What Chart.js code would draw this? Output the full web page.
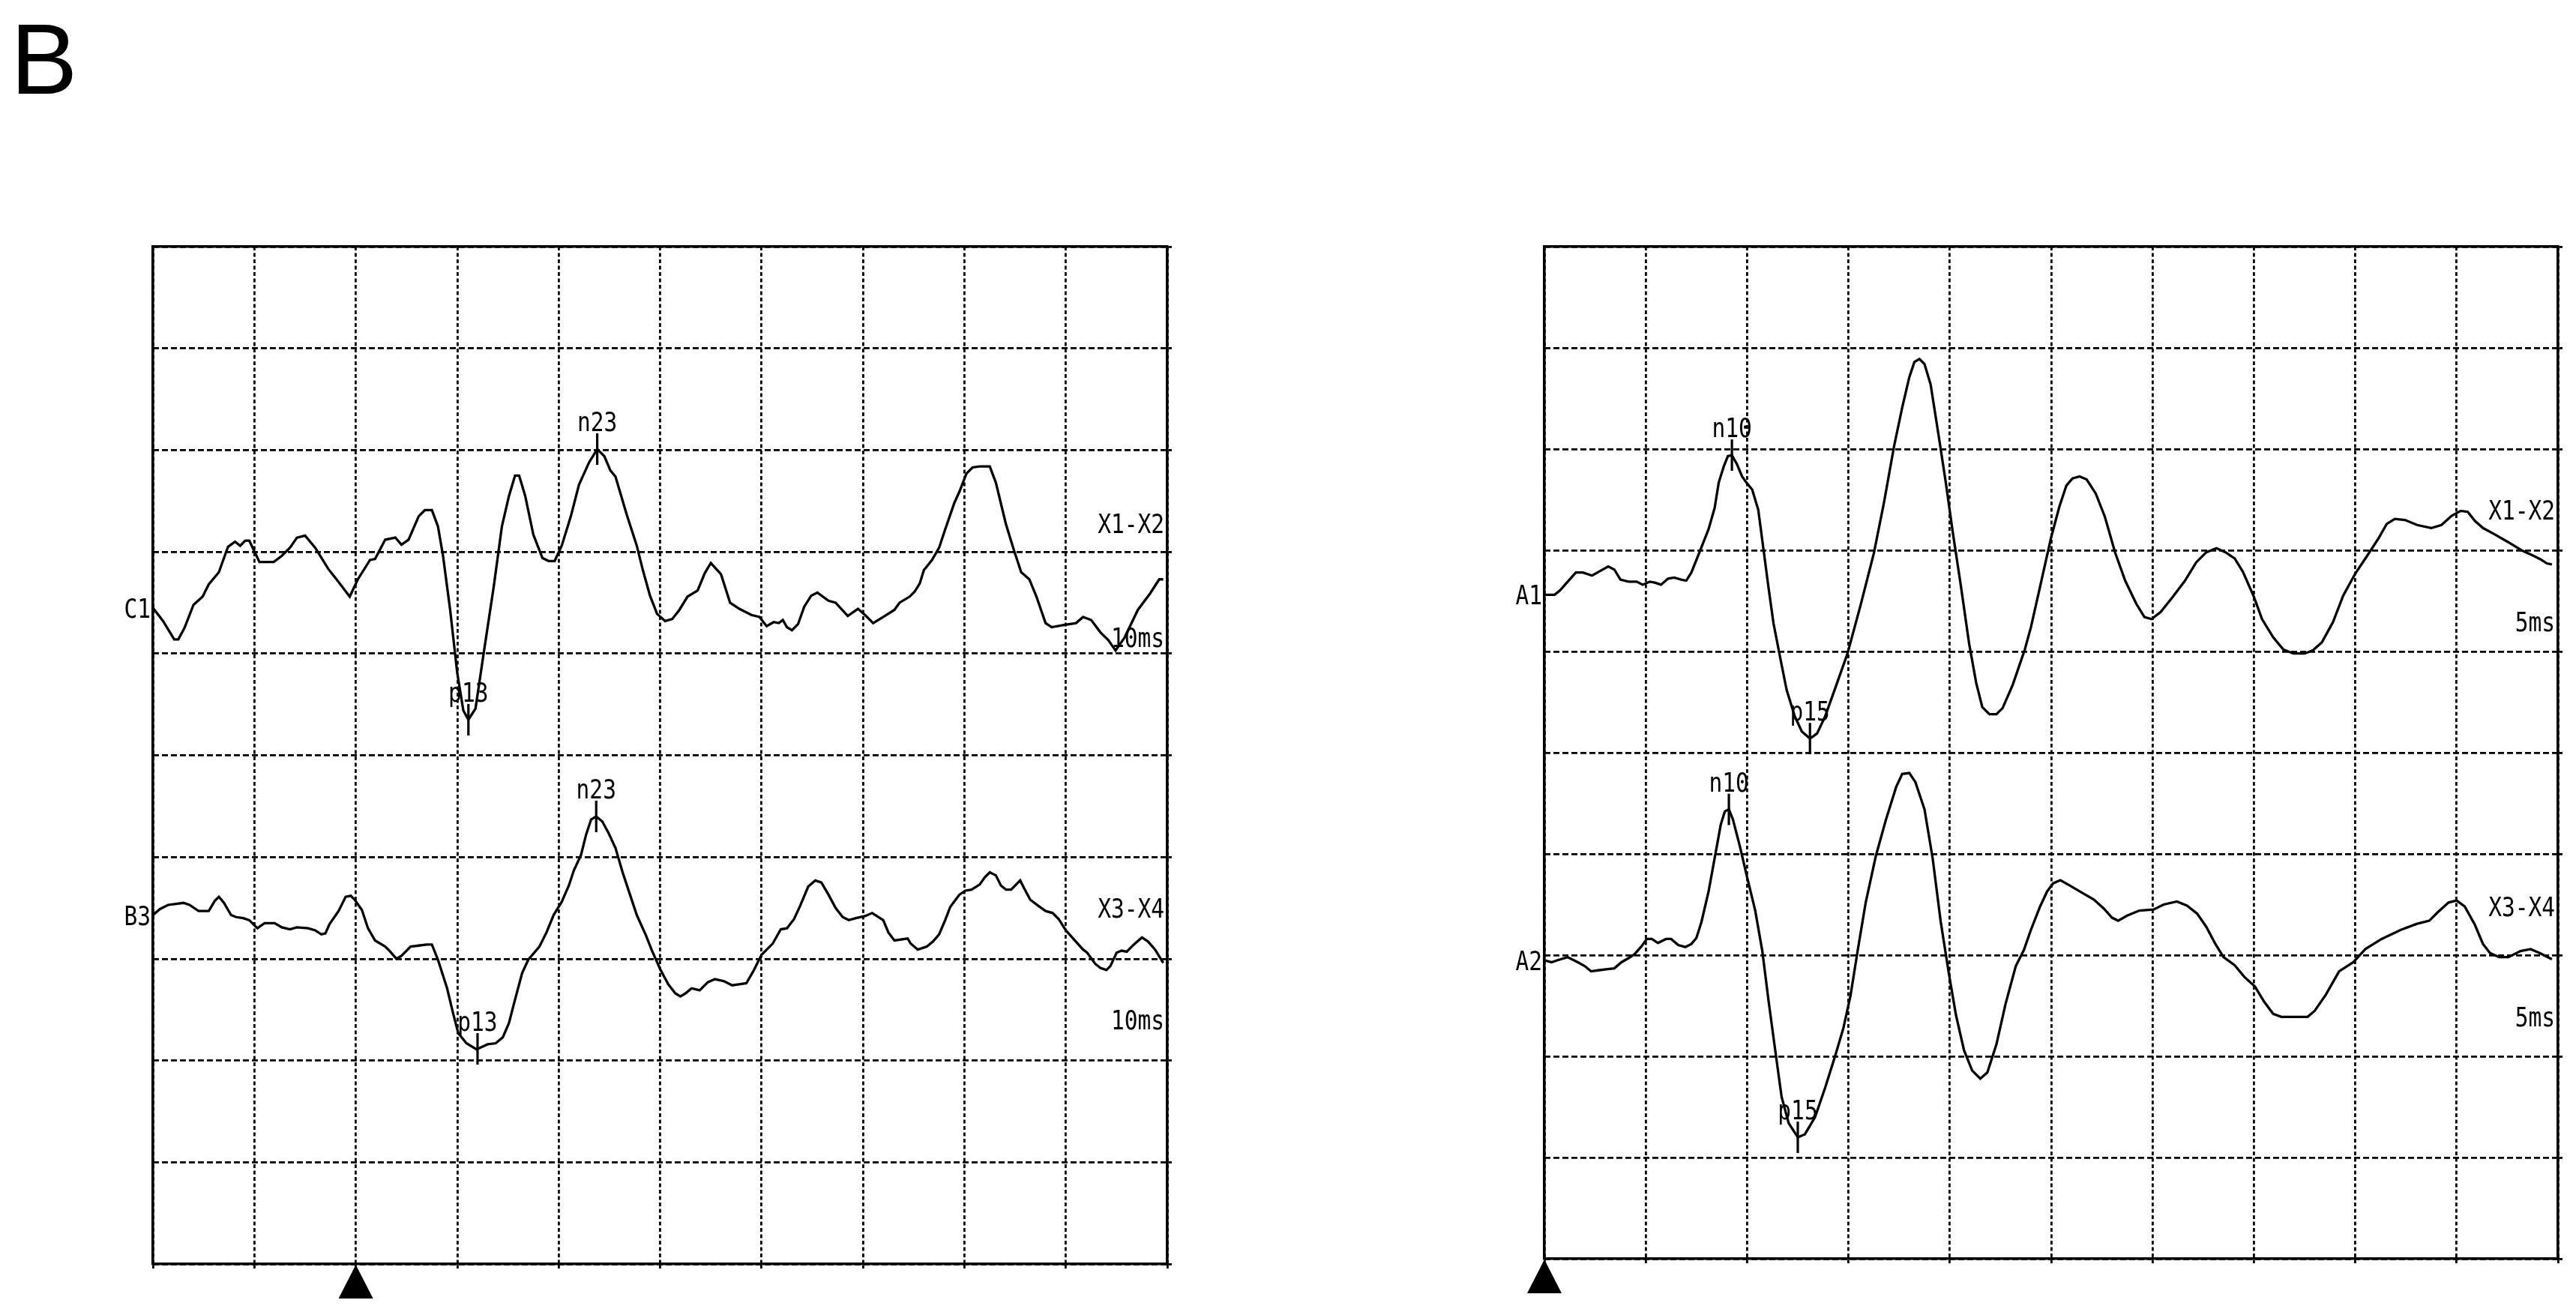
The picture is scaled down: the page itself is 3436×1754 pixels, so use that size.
<!DOCTYPE html>
<html lang="ja">
<head>
  <meta charset="UTF-8" />
  <title>SEP traces B</title>
  <script src="https://cdn.jsdelivr.net/npm/chart.js"></script>
  <style>
    html, body {
      margin: 0;
      padding: 0;
      background: #fff;
    }

    body {
      position: relative;
      width: 3436px;
      height: 1754px;
      overflow: hidden;
    }

    .panel-label {
      position: absolute;
      left: 14px;
      top: 12px;
      font-family: 'Liberation Sans', Arial, sans-serif;
      font-size: 134px;
      line-height: 134px;
      color: #000;
    }

    .box {
      position: absolute;
      top: 0;
      width: 1718px;
      height: 1754px;
    }

    #leftBox { left: 0; }
    #rightBox { left: 1718px; }
  </style>
</head>
<body>
  <div class="panel-label">B</div>
  <div class="box" id="leftBox"><canvas id="leftChart" width="1718" height="1754"></canvas></div>
  <div class="box" id="rightBox"><canvas id="rightChart" width="1718" height="1754"></canvas></div>

  <script>
    // Linkes Panel: 10 ms/Div, Reiz bei 0 ms (zweite Gitterlinie)
    const c1Ms = [-20, -19, -17.9, -17.5, -16.9, -16, -15.1, -14.5, -13.5, -12.6,
      -11.9, -11.4, -10.9, -10.5, -9.5, -8.1, -7.3, -6.5, -5.8, -5,
      -4, -2.7, -1.9, -0.6, 0.2, 1.4, 1.9, 2.9, 3.9, 4.5,
      5.2, 6.2, 6.8, 7.5, 8.1, 8.6, 9.3, 10, 10.6, 11.1,
      11.8, 12.6, 13.6, 14.4, 15.1, 15.7, 16.1, 16.7, 17.5, 18.4,
      19, 19.6, 20.3, 21.2, 22, 23, 23.8, 24.5, 25.1, 25.6,
      26.7, 27.7, 28.3, 29, 29.7, 30.5, 31.2, 31.9, 32.7, 33.7,
      34.4, 35, 36, 36.9, 37.8, 39, 39.8, 40.5, 41.2, 41.7,
      42.1, 42.5, 43, 43.6, 44.2, 44.9, 45.5, 46.6, 47.3, 48.5,
      49.5, 50.2, 51, 52, 53.1, 53.6, 54.6, 55.1, 55.6, 56,
      56.8, 57.5, 58.1, 59, 59.5, 60.2, 60.8, 61.5, 62.5, 63.1,
      64.1, 64.9, 65.6, 66.4, 67.1, 68, 68.6, 69.7, 71, 71.7,
      72.5, 73.4, 74.2, 74.9, 75.8, 77.1, 78.3, 79.2, 79.6];
    const c1Div = [6.45, 6.32, 6.14, 6.14, 6.25, 6.48, 6.56, 6.68, 6.80, 7.05,
      7.10, 7.06, 7.11, 7.11, 6.90, 6.90, 6.96, 7.04, 7.14, 7.16,
      7.04, 6.83, 6.73, 6.56, 6.73, 6.92, 6.93, 7.12, 7.14, 7.07,
      7.12, 7.35, 7.41, 7.41, 7.25, 6.96, 6.43, 5.81, 5.44, 5.35,
      5.46, 6.00, 6.66, 7.25, 7.55, 7.75, 7.75, 7.55, 7.17, 6.94,
      6.91, 6.91, 7.06, 7.35, 7.66, 7.88, 8.01, 7.94, 7.80, 7.74,
      7.37, 7.06, 6.82, 6.57, 6.39, 6.32, 6.34, 6.43, 6.56, 6.62,
      6.79, 6.89, 6.78, 6.50, 6.44, 6.38, 6.36, 6.27, 6.31, 6.30,
      6.33, 6.26, 6.23, 6.29, 6.46, 6.57, 6.60, 6.52, 6.50, 6.37,
      6.44, 6.38, 6.30, 6.36, 6.43, 6.50, 6.56, 6.61, 6.69, 6.82,
      6.92, 7.04, 7.22, 7.48, 7.59, 7.77, 7.83, 7.84, 7.84, 7.68,
      7.27, 7.01, 6.80, 6.73, 6.56, 6.30, 6.26, 6.28, 6.30, 6.36,
      6.33, 6.21, 6.13, 6.03, 6.16, 6.43, 6.59, 6.73, 6.73];

    const b3Ms = [-20, -19.3, -18.5, -17.7, -17, -16.4, -15.5, -14.5, -13.9, -13.5,
      -13, -12.3, -11.8, -11.1, -10.5, -9.7, -9, -8, -7.3, -6.5,
      -5.8, -4.7, -4, -3.4, -3, -2.6, -1.7, -1, -0.5, -0.1,
      0.6, 1.2, 1.9, 2.9, 3.4, 4, 4.5, 5.4, 6.2, 7,
      7.5, 8.1, 9, 9.6, 10.1, 10.9, 11.9, 13, 13.8, 14.5,
      15.1, 15.7, 16.4, 17, 18.1, 18.8, 19.5, 20.3, 21, 21.5,
      22.2, 22.7, 23.2, 23.7, 24.3, 24.9, 25.6, 26.3, 27.1, 27.7,
      28.6, 29.2, 30, 30.8, 31.5, 32, 32.5, 33.1, 33.9, 34.7,
      35.4, 36.3, 37.1, 37.8, 38.5, 39.2, 40, 41.1, 41.9, 42.5,
      43.2, 43.8, 44.6, 45.3, 45.9, 46.6, 47.3, 48, 48.6, 49.3,
      50.2, 50.9, 52, 52.5, 53.1, 54.4, 54.7, 55.4, 56.3, 56.9,
      57.5, 58.1, 58.6, 59.5, 60.1, 60.7, 61.5, 62, 62.5, 63.1,
      63.6, 64.1, 64.6, 65.5, 65.9, 66.5, 67.3, 68, 68.7, 69.3,
      70, 70.8, 71.7, 72.1, 72.9, 73.4, 74, 74.4, 75, 75.5,
      76, 76.7, 77.5, 78.1, 78.8, 79.6];
    const b3Div = [3.43, 3.49, 3.53, 3.54, 3.55, 3.53, 3.47, 3.47, 3.57, 3.61,
      3.55, 3.43, 3.41, 3.40, 3.38, 3.30, 3.35, 3.35, 3.31, 3.29,
      3.31, 3.30, 3.28, 3.24, 3.25, 3.34, 3.47, 3.61, 3.62, 3.58,
      3.48, 3.30, 3.18, 3.12, 3.07, 3.00, 3.03, 3.12, 3.13, 3.14,
      3.14, 2.99, 2.71, 2.46, 2.27, 2.17, 2.11, 2.16, 2.17, 2.23,
      2.37, 2.60, 2.86, 2.99, 3.12, 3.26, 3.43, 3.56, 3.72, 3.87,
      4.02, 4.22, 4.37, 4.40, 4.35, 4.24, 4.09, 3.85, 3.61, 3.43,
      3.23, 3.08, 2.90, 2.75, 2.66, 2.63, 2.66, 2.71, 2.69, 2.77,
      2.80, 2.78, 2.74, 2.75, 2.76, 2.88, 3.04, 3.15, 3.29, 3.30,
      3.39, 3.52, 3.71, 3.77, 3.75, 3.63, 3.50, 3.41, 3.38, 3.40,
      3.42, 3.45, 3.38, 3.26, 3.18, 3.20, 3.15, 3.09, 3.12, 3.17,
      3.24, 3.38, 3.51, 3.63, 3.67, 3.68, 3.73, 3.80, 3.85, 3.82,
      3.72, 3.68, 3.68, 3.77, 3.69, 3.58, 3.52, 3.47, 3.45, 3.39,
      3.28, 3.19, 3.09, 3.06, 2.95, 2.91, 2.89, 2.93, 3.06, 3.08,
      3.07, 3.14, 3.21, 3.17, 3.09, 2.96];

    // Rechtes Panel: 5 ms/Div, Reiz am linken Rand
    const a1Ms = [0, 0.5, 0.75, 1.15, 1.55, 1.9, 2.35, 2.7, 3.15, 3.45,
      3.75, 4.15, 4.55, 4.85, 5.2, 5.45, 5.75, 6.1, 6.4, 6.75,
      7, 7.25, 7.65, 8.1, 8.4, 8.6, 8.85, 9.05, 9.25, 9.5,
      9.75, 10, 10.25, 10.55, 10.8, 11.05, 11.3, 11.65, 11.95, 12.35,
      12.7, 13.1, 13.45, 13.85, 14.35, 14.95, 15.6, 16.25, 16.75, 17.25,
      17.65, 18, 18.25, 18.5, 18.75, 19.05, 19.45, 19.8, 20.15, 20.55,
      20.95, 21.3, 21.6, 21.95, 22.3, 22.6, 23.1, 23.7, 24, 24.45,
      25, 25.4, 25.75, 26.05, 26.4, 26.75, 27.2, 27.65, 28.15, 28.65,
      29.2, 29.6, 29.95, 30.4, 31, 31.6, 32.15, 32.65, 33.15, 33.6,
      34.05, 34.45, 35, 35.4, 35.95, 36.45, 36.95, 37.5, 37.9, 38.35,
      38.9, 39.4, 40, 40.6, 41.15, 41.55, 41.95, 42.45, 43.05, 43.75,
      44.25, 44.75, 45.2, 45.55, 45.9, 46.3, 46.85, 47.55, 48.2, 48.75,
      49.15, 49.45, 49.7];
    const a1Div = [6.56, 6.56, 6.60, 6.69, 6.78, 6.78, 6.75, 6.79, 6.84, 6.81,
      6.71, 6.69, 6.69, 6.66, 6.69, 6.68, 6.66, 6.72, 6.73, 6.71,
      6.70, 6.78, 6.98, 7.21, 7.42, 7.67, 7.83, 7.93, 7.94, 7.85,
      7.73, 7.66, 7.60, 7.40, 7.02, 6.64, 6.28, 5.92, 5.62, 5.36,
      5.21, 5.14, 5.19, 5.36, 5.64, 5.98, 6.46, 6.97, 7.47, 8.03,
      8.41, 8.71, 8.86, 8.89, 8.84, 8.64, 8.13, 7.67, 7.17, 6.64,
      6.08, 5.69, 5.45, 5.38, 5.38, 5.44, 5.67, 6.02, 6.24, 6.64,
      7.13, 7.43, 7.64, 7.71, 7.73, 7.70, 7.56, 7.33, 6.98, 6.70,
      6.47, 6.34, 6.32, 6.39, 6.54, 6.70, 6.88, 6.98, 7.02, 6.98,
      6.92, 6.79, 6.54, 6.32, 6.14, 6.02, 5.98, 5.98, 6.01, 6.09,
      6.29, 6.55, 6.77, 6.95, 7.12, 7.26, 7.31, 7.30, 7.25, 7.22,
      7.25, 7.34, 7.39, 7.38, 7.29, 7.22, 7.16, 7.08, 7.00, 6.95,
      6.91, 6.87, 6.86];

    const a2Ms = [0, 0.35, 0.65, 1.15, 1.65, 2, 2.3, 2.65, 3.05, 3.45,
      3.8, 4.15, 4.45, 4.8, 5.05, 5.3, 5.6, 6, 6.25, 6.6,
      6.95, 7.25, 7.5, 7.75, 8.1, 8.4, 8.7, 8.9, 9.1, 9.3,
      9.65, 10, 10.4, 10.75, 11.05, 11.4, 11.7, 12.05, 12.5, 12.85,
      13.35, 13.85, 14.35, 14.75, 15.1, 15.45, 15.85, 16.35, 16.85, 17.35,
      17.65, 18, 18.3, 18.75, 19.15, 19.55, 19.95, 20.3, 20.7, 21.1,
      21.5, 21.85, 22.3, 22.75, 23.25, 23.65, 24, 24.45, 24.8, 25.1,
      25.45, 25.9, 26.4, 27.1, 27.6, 28, 28.3, 28.75, 29.35, 30.05,
      30.55, 31.2, 31.7, 32.2, 32.65, 33.1, 33.5, 34.05, 34.55, 35.05,
      35.5, 35.95, 36.35, 36.95, 37.65, 38, 38.55, 39.2, 39.9, 40.5,
      41.3, 42.25, 43.05, 43.65, 44.05, 44.6, 45, 45.4, 45.9, 46.3,
      46.65, 47.1, 47.55, 48.15, 48.65, 49.1, 49.7];
    const a2Div = [2.95, 2.93, 2.95, 2.98, 2.93, 2.89, 2.84, 2.85, 2.86, 2.87,
      2.93, 2.97, 3.01, 3.09, 3.16, 3.16, 3.12, 3.16, 3.16, 3.10,
      3.08, 3.11, 3.17, 3.33, 3.63, 3.96, 4.29, 4.42, 4.44, 4.34,
      4.07, 3.77, 3.44, 3.04, 2.56, 2.04, 1.60, 1.34, 1.20, 1.23,
      1.40, 1.69, 2.01, 2.28, 2.60, 3.04, 3.52, 3.98, 4.34, 4.66,
      4.79, 4.80, 4.71, 4.44, 3.96, 3.33, 2.82, 2.41, 2.06, 1.86,
      1.78, 1.84, 2.12, 2.52, 2.89, 3.05, 3.25, 3.48, 3.63, 3.71,
      3.74, 3.69, 3.63, 3.55, 3.46, 3.37, 3.34, 3.39, 3.44, 3.45,
      3.50, 3.53, 3.49, 3.41, 3.28, 3.11, 2.98, 2.90, 2.78, 2.69,
      2.54, 2.42, 2.39, 2.39, 2.39, 2.45, 2.61, 2.84, 2.93, 3.06,
      3.16, 3.25, 3.31, 3.34, 3.42, 3.52, 3.54, 3.48, 3.30, 3.11,
      3.02, 2.98, 2.98, 3.04, 3.06, 3.02, 2.96];

    // Beschriftungen
    const leftChannels = ['C1', 'B3'];
    const leftMontages = ['X1-X2', 'X3-X4'];
    const leftSweep = '10ms';
    const leftPeakNames = ['n23', 'p13', 'n23', 'p13'];
    const leftPeakMs = [23.8, 11.1, 23.7, 12.0];
    const leftPeakTrace = [0, 0, 1, 1];

    const rightChannels = ['A1', 'A2'];
    const rightMontages = ['X1-X2', 'X3-X4'];
    const rightSweep = '5ms';
    const rightPeakNames = ['n10', 'p15', 'n10', 'p15'];
    const rightPeakMs = [9.25, 13.1, 9.1, 12.5];
    const rightPeakTrace = [0, 0, 1, 1];

    const LABEL_FONT = '36px "DejaVu Sans Mono", "Liberation Mono", monospace';
    const SQUEEZE = 0.82;   // schmale Schrift wie im Original
    const HALF_CAP = 13;

    function toPoints(ms, vals) {
      return ms.map((x, i) => ({ x: x, y: vals[i] }));
    }

    function valueAt(points, t) {
      for (let i = 1; i < points.length; i++) {
        if (points[i].x >= t) {
          const p0 = points[i - 1], p1 = points[i];
          const f = (t - p0.x) / (p1.x - p0.x);
          return p0.y + f * (p1.y - p0.y);
        }
      }
      return points[points.length - 1].y;
    }

    function squeezedText(ctx, text, px, py, align) {
      ctx.save();
      ctx.translate(px, py);
      ctx.scale(SQUEEZE, 1);
      ctx.textAlign = align;
      ctx.fillText(text, 0, 0);
      ctx.restore();
    }

    // Kanalnamen, Peak-Marken und Reizdreieck
    function makeMarks(cfg) {
      return {
        id: 'traceMarks',
        afterDatasetsDraw(chart) {
          const { ctx, chartArea: a, scales: { x, y } } = chart;
          ctx.save();
          ctx.fillStyle = '#000';
          ctx.strokeStyle = '#000';
          ctx.font = LABEL_FONT;
          ctx.textBaseline = 'alphabetic';

          cfg.channels.forEach((name, i) => {
            const pts = chart.data.datasets[i].data;
            squeezedText(ctx, name, a.left - 3, y.getPixelForValue(pts[0].y) + HALF_CAP, 'right');
            squeezedText(ctx, cfg.montages[i], a.right - 4, y.getPixelForValue(cfg.montageAt[i]) + HALF_CAP, 'right');
            squeezedText(ctx, cfg.sweep, a.right - 4, y.getPixelForValue(cfg.sweepAt[i]) + HALF_CAP, 'right');
          });

          cfg.peakNames.forEach((name, k) => {
            const pts = chart.data.datasets[cfg.peakTrace[k]].data;
            const t = cfg.peakMs[k];
            const v = valueAt(pts, t);
            const px = x.getPixelForValue(t);
            const top = y.getPixelForValue(v + 0.155);
            const bot = y.getPixelForValue(v - 0.155);
            ctx.lineWidth = 3.2;
            ctx.beginPath();
            ctx.moveTo(px, top);
            ctx.lineTo(px, bot);
            ctx.stroke();
            squeezedText(ctx, name, px, top - 3, 'center');
          });

          const sx = x.getPixelForValue(cfg.stimulusMs);
          ctx.beginPath();
          ctx.moveTo(sx, a.bottom + 1);
          ctx.lineTo(sx + 23, a.bottom + 46);
          ctx.lineTo(sx - 23, a.bottom + 46);
          ctx.closePath();
          ctx.fill();
          ctx.restore();
        }
      };
    }

    function buildChart(canvasId, traces, xMin, xMax, padding, marks) {
      const datasets = traces.map(([ms, vals]) => ({
        data: toPoints(ms, vals),
        borderColor: '#000',
        borderWidth: 3.3,
        pointRadius: 0,
        tension: 0,
        fill: false
      }));

      const gridLine = { color: '#000', lineWidth: 2.8, drawTicks: true, tickLength: 6, tickWidth: 2.8, tickColor: '#000' };
      const frameOnly = { display: false, drawTicks: false };

      return new Chart(document.getElementById(canvasId), {
        type: 'line',
        data: { datasets: datasets },
        options: {
          responsive: false,
          animation: false,
          devicePixelRatio: 1,
          layout: { padding: padding },
          plugins: {
            legend: { display: false },
            tooltip: { enabled: false }
          },
          scales: {
            x: {
              type: 'linear', position: 'bottom', min: xMin, max: xMax,
              ticks: { display: false, stepSize: (xMax - xMin) / 10 },
              grid: gridLine,
              border: { display: true, color: '#000', width: 3.6, dash: [5, 3.5] }
            },
            xTop: {
              type: 'linear', position: 'top', min: xMin, max: xMax,
              ticks: { display: false },
              grid: frameOnly,
              border: { display: true, color: '#000', width: 3.6 }
            },
            y: {
              type: 'linear', position: 'right', min: 0, max: 10,
              ticks: { display: false, stepSize: 1 },
              grid: gridLine,
              border: { display: true, color: '#000', width: 3.6, dash: [8, 4] }
            },
            yLeft: {
              type: 'linear', position: 'left', min: 0, max: 10,
              ticks: { display: false },
              grid: frameOnly,
              border: { display: true, color: '#000', width: 3.6 }
            }
          }
        },
        plugins: [makeMarks(marks)]
      });
    }

    buildChart('leftChart', [[c1Ms, c1Div], [b3Ms, b3Div]], -20, 80,
      { left: 204, top: 329, right: 155, bottom: 62 },
      {
        channels: leftChannels, montages: leftMontages, sweep: leftSweep,
        montageAt: [7.28, 3.50], sweepAt: [6.16, 2.40],
        peakNames: leftPeakNames, peakMs: leftPeakMs, peakTrace: leftPeakTrace,
        stimulusMs: 0
      });

    buildChart('rightChart', [[a1Ms, a1Div], [a2Ms, a2Div]], 0, 50,
      { left: 342, top: 329, right: 18, bottom: 69 },
      {
        channels: rightChannels, montages: rightMontages, sweep: rightSweep,
        montageAt: [7.40, 3.48], sweepAt: [6.30, 2.39],
        peakNames: rightPeakNames, peakMs: rightPeakMs, peakTrace: rightPeakTrace,
        stimulusMs: 0
      });
  </script>
</body>
</html>
